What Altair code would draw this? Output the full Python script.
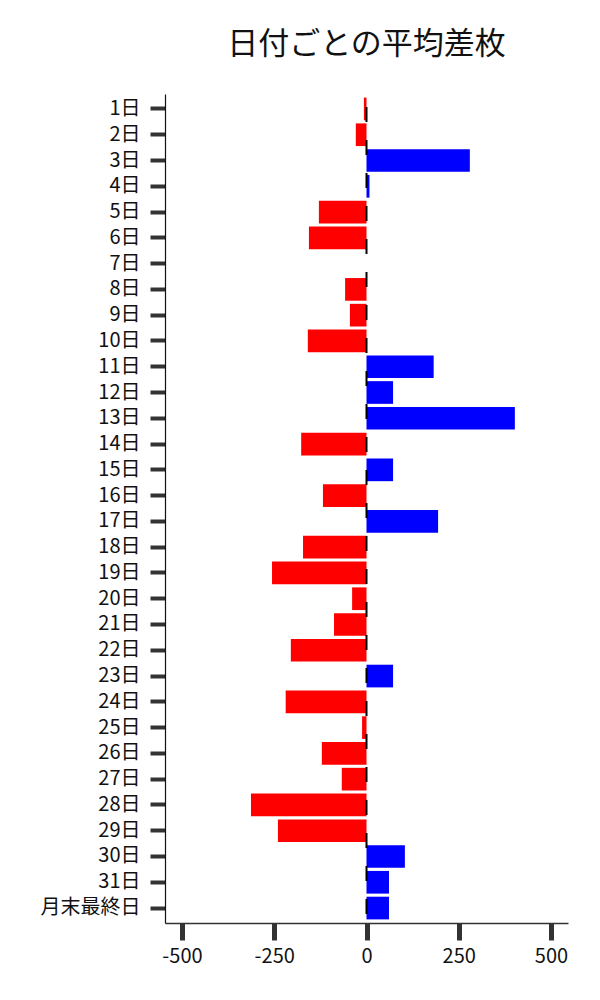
import altair as alt
import pandas as pd

days = [f"{i}日" for i in range(1, 32)] + ["月末最終日"]
values = [-7, -29, 280, 8, -129, -156, 0, -58, -45, -159,
          182, 72, 402, -177, 72, -118, 194, -172, -256, -39,
          -88, -205, 72, -219, -12, -121, -67, -313, -240, 104,
          61, 61]
x_ticks = [-500, -250, 0, 250, 500]

df = pd.DataFrame({"day": days, "value": values})
df["sign"] = ["pos" if v > 0 else "neg" for v in values]

FONT = "Noto Sans CJK JP"

x = alt.X("value:Q", scale=alt.Scale(domain=[-546, 546], nice=False, zero=False),
          axis=alt.Axis(title=None, values=x_ticks, grid=False,
                        labelExpr="replace(datum.label, '−', '-')",
                        tickSize=17, tickWidth=5, tickColor="#333333",
                        domainColor="#333333", domainWidth=1.5,
                        labelFontSize=20, labelFont=FONT, labelColor="#111111",
                        labelPadding=6))
y = alt.Y("day:N", sort=days,
          scale=alt.Scale(paddingInner=0.12, paddingOuter=0.14),
          axis=alt.Axis(title=None, grid=False, tickSize=15, tickWidth=4,
                        tickColor="#333333", domainColor="#111111", domainWidth=1.2,
                        labelFontSize=20, labelFont=FONT, labelColor="#111111",
                        labelPadding=10))

bars = alt.Chart(df).mark_bar().encode(
    x=x, y=y,
    x2=alt.datum(0),
    color=alt.Color("sign:N", scale=alt.Scale(domain=["pos", "neg"], range=["#0000ff", "#ff0000"]), legend=None),
)

rule = alt.Chart(pd.DataFrame({"z": [0]})).mark_rule(
    color="black", strokeDash=[15, 18], strokeDashOffset=20, strokeWidth=2
).encode(x="z:Q")

chart = alt.layer(bars, rule).properties(
    width=403, height=829,
    title=alt.Title("日付ごとの平均差枚", fontSize=31, font=FONT, fontWeight="normal",
                    color="#111111", offset=32),
    padding={"left": 32, "top": 21, "right": 10, "bottom": 5},
).configure_view(stroke=None)

chart.save("out.html", embed_options={"renderer": "svg", "actions": False})
